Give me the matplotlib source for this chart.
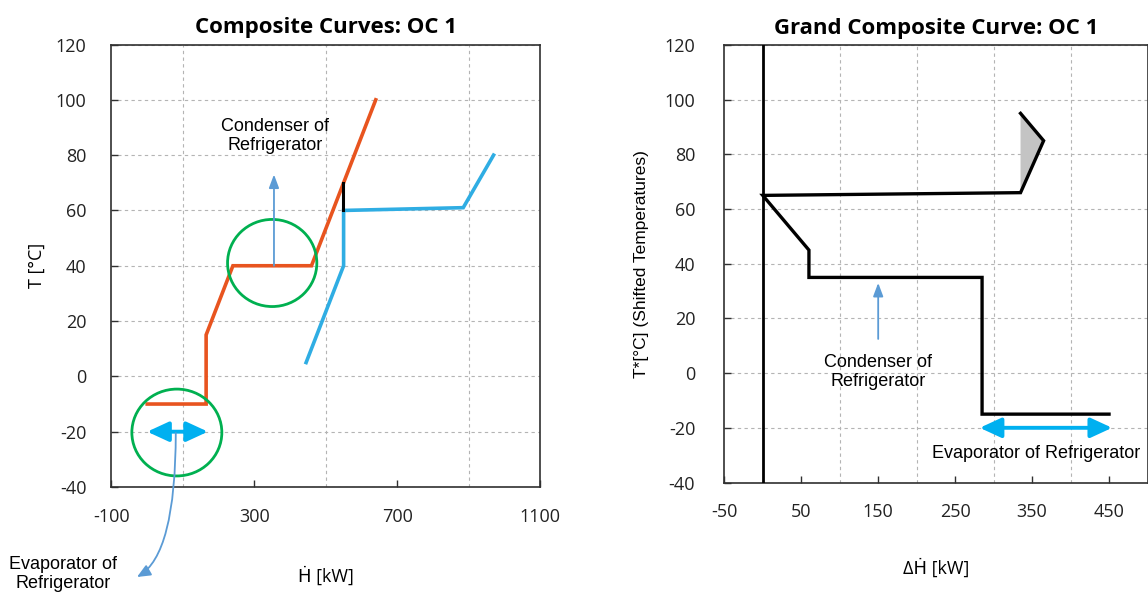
import matplotlib
matplotlib.use("Agg")
import matplotlib.pyplot as plt
from matplotlib.patches import Ellipse, Polygon
from matplotlib.ticker import FixedLocator

plt.rcParams["axes.unicode_minus"] = False

# ---------------- data ----------------
hot_H = [0, 165, 165, 240, 460, 640]
hot_T = [-10, -10, 15, 40, 40, 100]
cold_H = [445, 550, 550, 885, 970]
cold_T = [5, 40, 60, 61, 80]
gap_H = [548, 548]
gap_T = [60, 70]

gcc_H = [335, 365, 335, 0, 60, 60, 285, 285, 450]
gcc_T = [95, 85, 66, 65, 45, 35, 35, -15, -15]
pocket_H = [335, 365, 335]
pocket_T = [95, 85, 66]

left_xticks = [-100, 300, 700, 1100]
left_xgrid = [100, 500, 900]
right_xticks = [-50, 50, 150, 250, 350, 450]
right_xgrid = [0, 100, 200, 300, 400]
yticks = [-40, -20, 0, 20, 40, 60, 80, 100, 120]

# ---------------- styles ----------------
TICKFONT = ["Open Sans", "DejaVu Sans"]
ANNFONT = ["Liberation Sans", "DejaVu Sans"]
ORANGE = "#E8541F"
COLD = "#2FADE3"
GREEN = "#00B050"
ARROW = "#5B9BD5"
CYAN = "#00B0F0"
GRIDC = "#B4B4B4"
SPINE = "#303030"

W, H = 1148, 599
fig = plt.figure(figsize=(W / 100, H / 100), dpi=100)


def box(l, t, r, b):
    return [l / W, 1 - b / H, (r - l) / W, (b - t) / H]


def style_axes(ax, xticks, xgrid, xlim, ypad):
    ax.set_xlim(*xlim)
    ax.set_ylim(-40, 120)
    ax.xaxis.set_major_locator(FixedLocator(xticks))
    ax.xaxis.set_minor_locator(FixedLocator(xgrid))
    ax.yaxis.set_major_locator(FixedLocator(yticks))
    ax.tick_params(which="major", direction="in", length=5, width=1.0, color=SPINE,
                   labelsize=13)
    ax.tick_params(which="minor", length=0)
    ax.tick_params(axis="x", pad=15)
    ax.tick_params(axis="y", pad=ypad)
    for lab in ax.get_xticklabels() + ax.get_yticklabels():
        lab.set_fontfamily(TICKFONT)
        lab.set_color("#222222")
    gl = dict(color=GRIDC, linestyle=(0, (3, 3)), linewidth=0.8)
    ax.grid(True, which="major", axis="y", **gl)
    ax.grid(True, which="minor", axis="x", **gl)
    ax.grid(False, which="major", axis="x")
    for s in ax.spines.values():
        s.set_color(SPINE)
        s.set_linewidth(1.2)
    ax.set_axisbelow(True)


DOUBLE = "<|-|>,head_length=1.3,head_width=0.6"
SINGLE = "-|>,head_length=0.8,head_width=0.3"

# ---------------- left chart ----------------
ax1 = fig.add_axes(box(111.5, 44.5, 540, 487))
style_axes(ax1, left_xticks, left_xgrid, (-100, 1100), 18)
ax1.plot(hot_H, hot_T, color=ORANGE, lw=2.6, solid_joinstyle="miter", zorder=3)
ax1.plot(cold_H, cold_T, color=COLD, lw=2.6, solid_joinstyle="miter", zorder=3)
ax1.plot(gap_H, gap_T, color="black", lw=2.2, zorder=4)

ax1.add_patch(Ellipse((350, 41), 250, 31.5, fill=False, edgecolor=GREEN, lw=2, zorder=5))
ax1.add_patch(Ellipse((83, -20.3), 252, 31.4, fill=False, edgecolor=GREEN, lw=2, zorder=5))

# condenser arrow
ax1.annotate("", xy=(355, 73), xytext=(355, 40),
             arrowprops=dict(arrowstyle=SINGLE, color=ARROW, lw=1.3,
                             shrinkA=0, shrinkB=0), zorder=6)
ax1.text(357, 87, "Condenser of\nRefrigerator", ha="center", va="center",
         fontsize=13, family=ANNFONT, linespacing=1.15, zorder=6)

# evaporator double arrow
ax1.annotate("", xy=(0, -20), xytext=(170, -20),
             arrowprops=dict(arrowstyle=DOUBLE, color=CYAN, lw=2.8,
                             shrinkA=0, shrinkB=0), zorder=6)
# curved pointer out of axes
fig_tip = (137 / W, 1 - 577 / H)
ax1.annotate("", xy=fig_tip, xycoords="figure fraction",
             xytext=(80, -20.5), textcoords="data",
             arrowprops=dict(arrowstyle="-|>,head_length=0.8,head_width=0.35",
                             color=ARROW, lw=1.3, shrinkA=0, shrinkB=0,
                             connectionstyle="angle3,angleA=-90,angleB=30"),
             annotation_clip=False, zorder=6)
fig.text(63 / W, 1 - 574 / H, "Evaporator of\nRefrigerator", ha="center", va="center",
         fontsize=13, family=ANNFONT, linespacing=1.15)

ax1.set_title("Composite Curves: OC 1", fontsize=16, fontweight="bold",
              family=TICKFONT, pad=8)
ax1.set_xlabel("Ḣ [kW]", fontsize=13, family=TICKFONT, labelpad=29)
ax1.set_ylabel("T [°C]", fontsize=13, family=TICKFONT, labelpad=7)

# ---------------- right chart ----------------
ax2 = fig.add_axes(box(724.3, 45, 1147.5, 482.5))
style_axes(ax2, right_xticks, right_xgrid, (-50, 500), 21)
ax2.axvline(0, color="black", lw=2.0, zorder=3)
ax2.add_patch(Polygon(list(zip(pocket_H, pocket_T)), closed=True,
                      facecolor="#C4C4C4", edgecolor="none", zorder=2))
ax2.plot(gcc_H, gcc_T, color="black", lw=2.4, solid_joinstyle="miter", zorder=4)

ax2.annotate("", xy=(150, 33), xytext=(150, 12.5),
             arrowprops=dict(arrowstyle=SINGLE, color=ARROW, lw=1.3,
                             shrinkA=0, shrinkB=0), zorder=6)
ax2.text(150, 0.5, "Condenser of\nRefrigerator", ha="center", va="center",
         fontsize=13, family=ANNFONT, linespacing=1.15, zorder=6)
ax2.annotate("", xy=(282, -20), xytext=(454, -20),
             arrowprops=dict(arrowstyle=DOUBLE, color=CYAN, lw=2.8,
                             shrinkA=0, shrinkB=0), zorder=6)
ax2.text(355, -29.3, "Evaporator of Refrigerator", ha="center", va="center",
         fontsize=13, family=ANNFONT, zorder=6)

ax2.set_title("Grand Composite Curve: OC 1", fontsize=16, fontweight="bold",
              family=TICKFONT, pad=8)
ax2.set_xlabel("ΔḢ [kW]", fontsize=13, family=TICKFONT, labelpad=27)
ax2.set_ylabel("T*[°C] (Shifted Temperatures)", fontsize=12.5, family=ANNFONT,
               labelpad=11)

fig.savefig("out.png", dpi=100)
